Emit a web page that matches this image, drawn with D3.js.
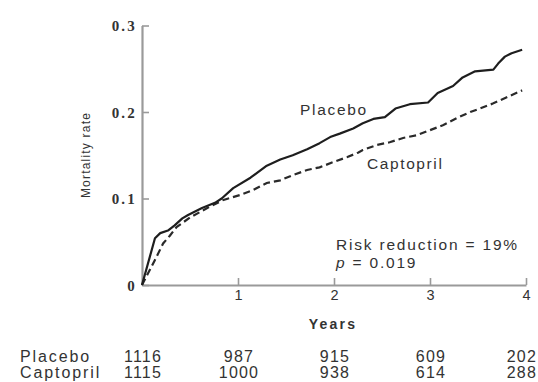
<!DOCTYPE html>
<html>
<head>
<meta charset="utf-8">
<script src="https://cdn.jsdelivr.net/npm/d3@7"></script>
<style>
  html, body { margin: 0; padding: 0; background: #fff; }
  svg { display: block; }
  text { font-family: "Liberation Sans", Arial, sans-serif; fill: #333; }
</style>
</head>
<body>
<svg id="chart" width="538" height="382"></svg>
<script>
// ---- data ----
const placeboT = [0, 0.135, 0.19, 0.27, 0.34, 0.42, 0.48, 0.625, 0.76, 0.83, 0.95, 1.13, 1.30, 1.44, 1.57, 1.72, 1.85, 1.96, 2.06, 2.20, 2.30, 2.41, 2.53, 2.64, 2.79, 2.98, 3.08, 3.24, 3.34, 3.47, 3.66, 3.71, 3.78, 3.85, 3.96];
const placeboV = [0, 0.054, 0.060, 0.063, 0.069, 0.077, 0.081, 0.089, 0.095, 0.100, 0.112, 0.124, 0.138, 0.145, 0.150, 0.157, 0.164, 0.171, 0.175, 0.181, 0.187, 0.192, 0.194, 0.204, 0.209, 0.211, 0.222, 0.230, 0.240, 0.247, 0.249, 0.256, 0.264, 0.268, 0.272];
const captoprilT = [0, 0.135, 0.22, 0.29, 0.36, 0.50, 0.68, 0.84, 1.02, 1.16, 1.30, 1.44, 1.57, 1.72, 1.85, 1.99, 2.14, 2.25, 2.30, 2.45, 2.58, 2.72, 2.86, 3.00, 3.14, 3.28, 3.42, 3.52, 3.66, 3.80, 3.96];
const captoprilV = [0, 0.029, 0.048, 0.057, 0.067, 0.078, 0.089, 0.098, 0.104, 0.110, 0.118, 0.121, 0.127, 0.133, 0.136, 0.142, 0.148, 0.153, 0.156, 0.162, 0.165, 0.170, 0.173, 0.179, 0.185, 0.193, 0.200, 0.204, 0.210, 0.217, 0.225];
const xTicks = [1, 2, 3, 4];
const xTickLabels = ["1", "2", "3", "4"];
const yTicks = [0, 0.1, 0.2, 0.3];
const yTickLabels = ["0", "0.1", "0.2", "0.3"];
const atRiskYears = [0, 1, 2, 3, 4];
const atRiskPlacebo = ["1116", "987", "915", "609", "202"];
const atRiskCaptopril = ["1115", "1000", "938", "614", "288"];
const rowNames = ["Placebo", "Captopril"];

// ---- chart ----
const svg = d3.select("#chart");
const x = d3.scaleLinear().domain([0, 4]).range([142, 526]);
const y = d3.scaleLinear().domain([0, 0.3]).range([285, 25.5]);

const axisColor = "#9a9a9a";

// y axis
const gy = svg.append("g").attr("transform", `translate(${x(0)},0)`)
  .call(d3.axisLeft(y).tickValues(yTicks)
    .tickFormat((d, i) => yTickLabels[i])
    .tickSizeInner(-7).tickSizeOuter(0).tickPadding(5));
gy.select(".domain").attr("stroke", axisColor).attr("stroke-width", 2.2);
gy.selectAll(".tick line").attr("stroke", axisColor).attr("stroke-width", 1.6);
gy.selectAll(".tick text")
  .style("font-family", "'Liberation Serif', serif")
  .style("font-weight", "bold").style("font-size", "15px")
  .attr("fill", "#444").attr("dy", "0.36em").style("letter-spacing", "2.2px");

// x axis
const gx = svg.append("g").attr("transform", `translate(0,${y(0)})`)
  .call(d3.axisBottom(x).tickValues(xTicks)
    .tickFormat((d, i) => xTickLabels[i])
    .tickSizeInner(-7).tickSizeOuter(0).tickPadding(5));
gx.select(".domain").attr("stroke", axisColor).attr("stroke-width", 2);
gx.selectAll(".tick line").attr("stroke", axisColor).attr("stroke-width", 1.6);
gx.selectAll(".tick text")
  .style("font-size", "14.5px").attr("fill", "#333");

// lines
const line = d3.line().x(d => x(d[0])).y(d => y(d[1])).curve(d3.curveLinear);
const placebo = placeboT.map((t, i) => [t, placeboV[i]]);
const captopril = captoprilT.map((t, i) => [t, captoprilV[i]]);

svg.append("path").datum(captopril).attr("d", line)
  .attr("fill", "none").attr("stroke", "#2a2a2a").attr("stroke-width", 2.2)
  .attr("stroke-dasharray", "7,4");
svg.append("path").datum(placebo).attr("d", line)
  .attr("fill", "none").attr("stroke", "#1e1e1e").attr("stroke-width", 2.2)
  .attr("stroke-linejoin", "round");

// labels
const lbl = (tx, ty, s, opts = {}) => {
  const t = svg.append("text").attr("x", tx).attr("y", ty).text(s)
    .style("font-size", (opts.size || 15.5) + "px")
    .style("letter-spacing", (opts.ls != null ? opts.ls : 1.8) + "px");
  if (opts.anchor) t.attr("text-anchor", opts.anchor);
  if (opts.weight) t.style("font-weight", opts.weight);
  return t;
};

lbl(300, 115, "Placebo", { size: 15.5, ls: 1.7 });
lbl(367, 169, "Captopril", { size: 15.5, ls: 1.6 });
lbl(336, 250, "Risk reduction = 19%", { size: 15.5, ls: 1.8 });
const pt = svg.append("text").attr("x", 336).attr("y", 268)
  .style("font-size", "15.5px").style("letter-spacing", "1.8px");
pt.append("tspan").style("font-style", "italic").text("p");
pt.append("tspan").text(" = 0.019");

lbl(333, 329, "Years", { size: 14, ls: 2.2, anchor: "middle", weight: "bold" });

svg.append("text")
  .attr("transform", `translate(90,155) rotate(-90)`)
  .attr("text-anchor", "middle")
  .style("font-size", "12px").style("letter-spacing", "1.2px")
  .text("Mortality rate");

// at-risk table
const rows = [atRiskPlacebo, atRiskCaptopril];
const rowY = [362, 378];
rows.forEach((vals, r) => {
  lbl(20, rowY[r], rowNames[r], { size: 16, ls: 1.9 });
  vals.forEach((v, i) => {
    const last = i === vals.length - 1;
    lbl(last ? 537 : x(atRiskYears[i]) + 1, rowY[r], v,
      { size: 16, ls: 1.2, anchor: last ? "end" : "middle" });
  });
});
</script>
</body>
</html>
